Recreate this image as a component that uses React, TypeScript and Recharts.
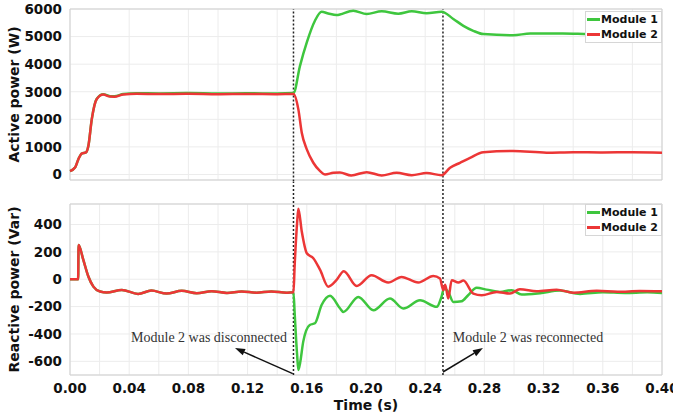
import React from 'react';
import { LineChart, Line, XAxis, YAxis, CartesianGrid, ReferenceLine, ReferenceArea, Legend } from 'recharts';

const GREEN = '#3ec63e';
const RED = '#ec3636';

// shared time ticks (s)
const timeTicks = [0, 0.02, 0.04, 0.06, 0.08, 0.1, 0.12, 0.14, 0.16, 0.18, 0.2, 0.22, 0.24, 0.26, 0.28, 0.3, 0.32, 0.34, 0.36, 0.38, 0.4];
const activeTicks = [0, 1000, 2000, 3000, 4000, 5000, 6000];
const reactiveTicks = [-600, -400, -200, 0, 200, 400];
const switchTimes = [0.151, 0.252];

// active power, module 1 (W)
const activeT1 = [0, 0.0034, 0.0056, 0.0079, 0.0108, 0.0124, 0.0147, 0.018, 0.0225, 0.027, 0.03, 0.036, 0.045, 0.06, 0.08, 0.1, 0.12, 0.14, 0.151,
  0.1554, 0.16, 0.1655, 0.17, 0.1745, 0.18, 0.1914, 0.2005, 0.2106, 0.2218, 0.2309, 0.241, 0.2511, 0.259, 0.2658, 0.2725, 0.2793, 0.2995, 0.311, 0.333, 0.35, 0.37, 0.4];
const activeP1 = [120, 250, 545, 760, 800, 1030, 2000, 2740, 2910, 2840, 2835, 2915, 2945, 2940, 2950, 2935, 2945, 2935, 2950,
  3940, 4790, 5575, 5900, 5840, 5780, 5940, 5820, 5915, 5830, 5915, 5850, 5900, 5640, 5390, 5210, 5090, 5050, 5110, 5110, 5090, 5080, 5090];

// active power, module 2 (W)
const activeT2 = [0, 0.0034, 0.0056, 0.0079, 0.0108, 0.0124, 0.0147, 0.018, 0.0225, 0.027, 0.03, 0.036, 0.045, 0.06, 0.08, 0.1, 0.12, 0.14, 0.151,
  0.1543, 0.1566, 0.16, 0.1644, 0.169, 0.1723, 0.178, 0.1824, 0.19, 0.2005, 0.2106, 0.2207, 0.2309, 0.241, 0.2511, 0.2568, 0.2635, 0.2703, 0.2793, 0.2995, 0.322, 0.34, 0.36, 0.38, 0.4];
const activeP2 = [120, 250, 545, 760, 800, 1030, 2000, 2730, 2900, 2825, 2820, 2900, 2925, 2915, 2925, 2910, 2920, 2910, 2920,
  2360, 1515, 910, 425, 120, 0, 60, 70, -35, 85, -35, 60, -25, 50, -25, 245, 425, 605, 810, 850, 790, 810, 800, 805, 790];

// reactive power, module 1 (Var)
const reactiveT1 = [0, 0.0055, 0.0058, 0.009, 0.0124, 0.0158, 0.0203, 0.0248, 0.035, 0.046, 0.055, 0.0653, 0.0755, 0.0856, 0.0957, 0.106, 0.116, 0.126, 0.136, 0.1464, 0.151,
  0.1518, 0.1535, 0.1543, 0.1555, 0.1576, 0.162, 0.1655, 0.17, 0.1757, 0.1824, 0.1847, 0.1948, 0.205, 0.2162, 0.2252, 0.2365, 0.2478, 0.251, 0.2527, 0.2556, 0.259, 0.2646, 0.269, 0.2748,
  0.2815, 0.2905, 0.2984, 0.3052, 0.3176, 0.331, 0.3446, 0.36, 0.375, 0.39, 0.4];
const reactiveQ1 = [0, 0, 250, 141, 20, -54, -90, -97, -78, -107, -83, -105, -85, -102, -88, -100, -90, -98, -90, -98, -95,
  -250, -560, -663, -610, -456, -334, -322, -188, -120, -212, -239, -129, -227, -141, -214, -154, -202, -129, -68, -93, -166, -161, -117, -63,
  -76, -93, -80, -112, -102, -83, -107, -95, -100, -96, -100];

// reactive power, module 2 (Var)
const reactiveT2 = [0, 0.0055, 0.0058, 0.009, 0.0124, 0.0158, 0.0203, 0.0248, 0.035, 0.046, 0.055, 0.0653, 0.0755, 0.0856, 0.0957, 0.106, 0.116, 0.126, 0.136, 0.1464, 0.151,
  0.1518, 0.1535, 0.1543, 0.1566, 0.16, 0.1644, 0.169, 0.1745, 0.18, 0.185, 0.1937, 0.2038, 0.215, 0.224, 0.2353, 0.2455, 0.25, 0.2522, 0.2535, 0.2556, 0.2579, 0.2624, 0.2658, 0.2725,
  0.2782, 0.2883, 0.2973, 0.304, 0.3153, 0.3288, 0.34, 0.3559, 0.37, 0.385, 0.4];
const reactiveQ2 = [0, 0, 250, 141, 20, -54, -90, -97, -78, -107, -83, -105, -85, -102, -88, -100, -90, -98, -90, -98, -95,
  100, 420, 515, 349, 190, 154, 68, -54, -7, 59, -49, 29, -24, 17, -24, 24, 5, -80, -40, -141, -7, -24, -10, -105,
  -117, -93, -105, -73, -88, -76, -98, -85, -92, -86, -88];

const zip = (ts: number[], vs: number[]) => ts.map((t, i) => ({ t, v: vs[i] }));

const tickStyle = { fontFamily: 'DejaVu Sans', fontWeight: 'bold', fontSize: 13.5, fill: '#111' };
const labelStyle = { fontFamily: 'DejaVu Sans', fontWeight: 'bold', fontSize: 14, fill: '#111', textAnchor: 'middle' };

const LegendBox = ({ payload }: any) => (
  <div style={{ border: '1px solid #d6d6d6', background: '#fff', padding: '0 3px 0 1px', fontFamily: 'DejaVu Sans', fontWeight: 'bold', fontSize: 11, lineHeight: '15px', color: '#111' }}>
    {(payload || []).map((p: any) => (
      <div key={p.value} style={{ display: 'flex', alignItems: 'center', whiteSpace: 'nowrap' }}>
        <span style={{ display: 'inline-block', width: 13, height: 2.5, background: p.color, marginRight: 1 }} />
        {p.value}
      </div>
    ))}
  </div>
);

const arrow = (text: string, dx: number, dy: number) => (props: any) => {
  const { x1, y1, x2, y2 } = props;
  const a = Math.atan2(y2 - y1, x2 - x1);
  const bx = x2 - 10 * Math.cos(a);
  const by = y2 - 10 * Math.sin(a);
  const s = Math.sin(a) * 3.5;
  const c = Math.cos(a) * 3.5;
  return (
    <g>
      <line x1={x1} y1={y1} x2={bx} y2={by} stroke="#111" strokeWidth={1.5} />
      <polygon points={`${x2},${y2} ${bx + s},${by - c} ${bx - s},${by + c}`} fill="#111" />
      <text x={x2 + dx} y={y2 + dy} textAnchor="middle" dominantBaseline="central" fontFamily="Liberation Serif" fontSize={14} fill="#333">{text}</text>
    </g>
  );
};

const xLabel = (v: number) => (Math.round(v / 0.02) % 2 === 0 ? v.toFixed(2) : '');

export default function App() {
  return (
    <div style={{ position: 'absolute', left: 0, top: 0, width: 673, height: 420, background: '#fff' }}>
      <div style={{ position: 'absolute', left: 0, top: 0 }}>
        <LineChart width={673} height={182} margin={{ top: 9, right: 11, bottom: 2, left: 0 }}>
          <CartesianGrid stroke="#ececec" />
          <XAxis dataKey="t" type="number" domain={[0, 0.4]} ticks={timeTicks} hide />
          <YAxis type="number" domain={[-200, 6000]} ticks={activeTicks} interval={0} width={70} axisLine={false} tickLine={false} tick={tickStyle}
            label={{ value: 'Active power (W)', angle: -90, position: 'insideLeft', offset: 14, style: labelStyle }} />
          <ReferenceArea x1={0} x2={0.4} y1={-200} y2={6000} fill="none" fillOpacity={0} stroke="#cfcfcf" />
          {switchTimes.map((x) => (
            <ReferenceLine key={x} segment={[{ x, y: -400 }, { x, y: 6000 }]} ifOverflow="visible" stroke="#222" strokeWidth={1.5} strokeDasharray="2 2" />
          ))}
          <Line data={zip(activeT1, activeP1)} dataKey="v" name="Module 1" type="monotone" stroke={GREEN} strokeWidth={2.5} dot={false} isAnimationActive={false} />
          <Line data={zip(activeT2, activeP2)} dataKey="v" name="Module 2" type="monotone" stroke={RED} strokeWidth={2.5} dot={false} isAnimationActive={false} />
          <Legend layout="vertical" align="center" verticalAlign="middle" content={LegendBox}
            wrapperStyle={{ left: 585, top: 11, right: 'auto', bottom: 'auto', width: 'auto', height: 'auto' }} />
        </LineChart>
      </div>
      <div style={{ position: 'absolute', left: 0, top: 182 }}>
        <LineChart width={673} height={238} margin={{ top: 22, right: 11, bottom: 0, left: 0 }}>
          <CartesianGrid stroke="#ececec" />
          <XAxis dataKey="t" type="number" domain={[0, 0.4]} ticks={timeTicks} height={45} axisLine={false} tickLine={false} tick={tickStyle}
            tickFormatter={xLabel} interval={0}
            label={{ value: 'Time (s)', position: 'insideBottom', offset: 10, style: labelStyle }} />
          <YAxis type="number" domain={[-700, 550]} ticks={reactiveTicks} interval={0} width={70} axisLine={false} tickLine={false} tick={tickStyle}
            label={{ value: 'Reactive power (Var)', angle: -90, position: 'insideLeft', offset: 14, style: labelStyle }} />
          <ReferenceArea x1={0} x2={0.4} y1={-700} y2={550} fill="none" fillOpacity={0} stroke="#cfcfcf" />
          {switchTimes.map((x) => (
            <ReferenceLine key={x} segment={[{ x, y: -700 }, { x, y: 730 }]} ifOverflow="visible" stroke="#222" strokeWidth={1.5} strokeDasharray="2 2" />
          ))}
          <Line data={zip(reactiveT1, reactiveQ1)} dataKey="v" name="Module 1" type="monotone" stroke={GREEN} strokeWidth={2.5} dot={false} isAnimationActive={false} />
          <Line data={zip(reactiveT2, reactiveQ2)} dataKey="v" name="Module 2" type="monotone" stroke={RED} strokeWidth={2.5} dot={false} isAnimationActive={false} />
          <ReferenceLine segment={[{ x: 0.1505, y: -690 }, { x: 0.1115, y: -503 }]} ifOverflow="visible" shape={arrow('Module 2 was disconnected', -26, -11)} />
          <ReferenceLine segment={[{ x: 0.252, y: -678 }, { x: 0.279, y: -503 }]} ifOverflow="visible" shape={arrow('Module 2 was reconnected', 45, -11)} />
          <Legend layout="vertical" align="center" verticalAlign="middle" content={LegendBox}
            wrapperStyle={{ left: 585, top: 22, right: 'auto', bottom: 'auto', width: 'auto', height: 'auto' }} />
        </LineChart>
      </div>
    </div>
  );
}
